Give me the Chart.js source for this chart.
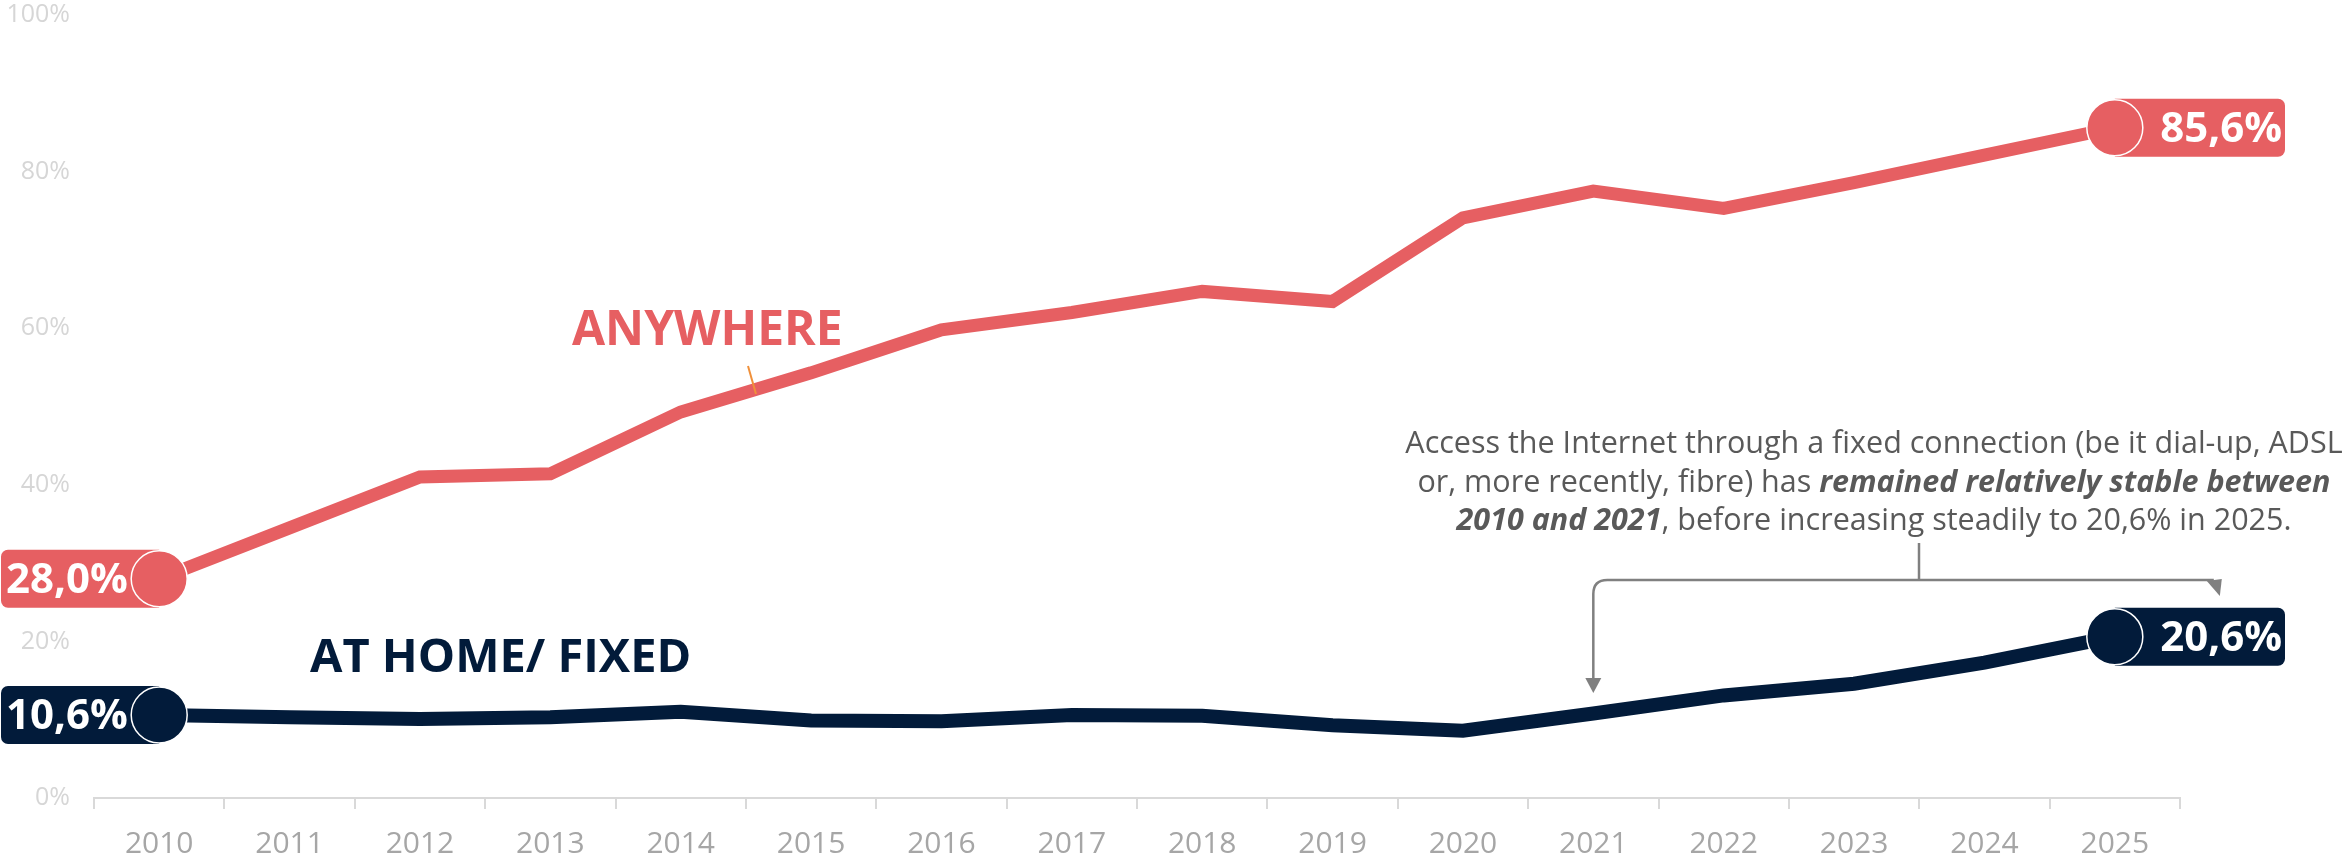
<!DOCTYPE html>
<html>
<head>
<meta charset="utf-8">
<title>Internet access: anywhere vs at home</title>
<script src="https://cdn.jsdelivr.net/npm/chart.js@4.4.1/dist/chart.umd.min.js"></script>
<style>
    html, body { margin: 0; padding: 0; background: #ffffff; }
    #wrap { width: 2349px; height: 861px; }
</style>
</head>
<body>
<div id="wrap"><canvas id="accessChart" width="2349" height="861"></canvas></div>
<script>
// ================================
// Data
// ================================
const years = ["2010", "2011", "2012", "2013", "2014", "2015", "2016", "2017",
               "2018", "2019", "2020", "2021", "2022", "2023", "2024", "2025"];
const anywhere  = [28.0, 34.5, 41.0, 41.4, 49.3, 54.3, 59.8, 62.0, 64.7, 63.4, 74.1, 77.5, 75.3, 78.6, 82.1, 85.6];
const fixedHome = [10.6, 10.3, 10.1, 10.3, 11.0, 9.9, 9.8, 10.6, 10.5, 9.3, 8.6, 10.8, 13.1, 14.6, 17.3, 20.6];
const yTicks = [0, 20, 40, 60, 80, 100];
const seriesNames = ["ANYWHERE", "AT HOME/ FIXED"];

const RED = "#e65f62";
const NAVY = "#021b3a";
const NOTE = "#595959";
const FONT = "'Open Sans', 'Noto Sans', sans-serif";

Chart.defaults.font.family = FONT;

function fmt(v) {
    return v.toFixed(1).replace(".", ",") + "%";
}

// ================================
// End point labels (boxes behind the big markers)
// ================================
const endLabels = {
    id: "endLabels",
    beforeDatasetsDraw(chart) {
        const ctx = chart.ctx;
        const colors = [RED, NAVY];
        chart.data.datasets.forEach((ds, i) => {
            const pts = chart.getDatasetMeta(i).data;
            const first = pts[0];
            const last = pts[pts.length - 1];
            ctx.save();
            ctx.fillStyle = colors[i];
            ctx.beginPath();
            ctx.roundRect(1, first.y - 29, first.x - 1, 58, [7, 0, 0, 7]);
            ctx.fill();
            ctx.beginPath();
            ctx.roundRect(last.x, last.y - 29, chart.chartArea.right + 105 - last.x, 58, [0, 7, 7, 0]);
            ctx.fill();
            ctx.restore();
        });
    },
    afterDatasetsDraw(chart) {
        const ctx = chart.ctx;
        chart.data.datasets.forEach((ds, i) => {
            const pts = chart.getDatasetMeta(i).data;
            const first = pts[0];
            const last = pts[pts.length - 1];
            ctx.save();
            ctx.fillStyle = "#ffffff";
            ctx.font = "bold 42px " + FONT;
            ctx.textBaseline = "middle";
            ctx.textAlign = "left";
            ctx.fillText(fmt(ds.data[0]), 6, first.y + 2);
            ctx.textAlign = "right";
            ctx.fillText(fmt(ds.data[ds.data.length - 1]), chart.chartArea.right + 102, last.y + 2);
            ctx.restore();
        });
    }
};

// ================================
// Series names, note and bracket
// ================================
function drawRich(ctx, segs, cx, y) {
    let total = 0;
    segs.forEach(s => { ctx.font = s.font; total += ctx.measureText(s.text).width; });
    let x = cx - total / 2;
    segs.forEach(s => {
        ctx.font = s.font;
        ctx.fillText(s.text, x, y);
        x += ctx.measureText(s.text).width;
    });
}

const notes = {
    id: "notes",
    afterDraw(chart) {
        const ctx = chart.ctx;
        const xs = chart.scales.x;
        ctx.save();

        // series names
        ctx.textBaseline = "alphabetic";
        ctx.textAlign = "left";
        ctx.font = "bold 48px " + FONT;
        ctx.fillStyle = RED;
        ctx.fillText(seriesNames[0], 572, 345);
        ctx.font = "bold 47px " + FONT;
        ctx.fillStyle = NAVY;
        ctx.fillText(seriesNames[1], 310, 672);

        // little orange tick under ANYWHERE
        ctx.strokeStyle = "#f0903a";
        ctx.lineWidth = 2;
        ctx.beginPath();
        ctx.moveTo(748, 366);
        ctx.lineTo(756, 394);
        ctx.stroke();

        // note text
        const size = 30.5;
        const reg = size + "px " + FONT;
        const bi = "italic bold " + size + "px " + FONT;
        ctx.fillStyle = NOTE;
        const cx = 1874;
        drawRich(ctx, [{ text: "Access the Internet through a fixed connection (be it dial-up, ADSL", font: reg }], cx, 453);
        drawRich(ctx, [
            { text: "or, more recently, fibre) has ", font: reg },
            { text: "remained relatively stable between", font: bi }
        ], cx, 492);
        drawRich(ctx, [
            { text: "2010 and 2021", font: bi },
            { text: ", before increasing steadily to 20,6% in 2025.", font: reg }
        ], cx, 530);

        // bracket with arrows to 2021 and 2025
        const xa = xs.getPixelForValue(11);
        const xb = xs.getPixelForValue(15) + 105;
        const yb = 580;
        ctx.strokeStyle = "#808080";
        ctx.fillStyle = "#808080";
        ctx.lineWidth = 2.5;
        ctx.beginPath();
        ctx.moveTo(1919, 543);
        ctx.lineTo(1919, yb);
        ctx.stroke();
        ctx.beginPath();
        ctx.moveTo(xb - 6, yb);
        ctx.lineTo(xa + 14, yb);
        ctx.quadraticCurveTo(xa, yb, xa, yb + 14);
        ctx.lineTo(xa, 680);
        ctx.stroke();
        ctx.beginPath();
        ctx.moveTo(xa - 8, 678);
        ctx.lineTo(xa + 8, 678);
        ctx.lineTo(xa, 693);
        ctx.closePath();
        ctx.fill();
        ctx.beginPath();
        ctx.moveTo(xb - 13, yb + 1);
        ctx.lineTo(xb + 2, yb - 1);
        ctx.lineTo(xb, yb + 16);
        ctx.closePath();
        ctx.fill();

        ctx.restore();
    }
};

// ================================
// Chart
// ================================
const endRadius = (c) => (c.dataIndex === 0 || c.dataIndex === years.length - 1) ? 28 : 0;

new Chart(document.getElementById("accessChart"), {
    type: "line",
    data: {
        labels: years,
        datasets: [{
            label: seriesNames[0],
            data: anywhere,
            borderColor: RED,
            backgroundColor: RED,
            borderWidth: 13,
            borderJoinStyle: "miter",
            pointRadius: endRadius,
            pointHoverRadius: endRadius,
            pointBackgroundColor: RED,
            pointBorderColor: "#ffffff",
            pointBorderWidth: 1.5,
            clip: false,
            tension: 0
        }, {
            label: seriesNames[1],
            data: fixedHome,
            borderColor: NAVY,
            backgroundColor: NAVY,
            borderWidth: 14,
            borderJoinStyle: "miter",
            pointRadius: endRadius,
            pointHoverRadius: endRadius,
            pointBackgroundColor: NAVY,
            pointBorderColor: "#ffffff",
            pointBorderWidth: 1.5,
            clip: false,
            tension: 0
        }]
    },
    options: {
        responsive: false,
        animation: false,
        events: [],
        layout: { autoPadding: false, padding: { left: 0, right: 169, top: 15, bottom: 0 } },
        plugins: {
            legend: { display: false },
            tooltip: { enabled: false }
        },
        scales: {
            x: {
                offset: true,
                grid: {
                    display: true,
                    offset: true,
                    drawOnChartArea: false,
                    tickLength: 11,
                    color: "#d9d9d9",
                    lineWidth: 2
                },
                border: { display: true, color: "#d9d9d9", width: 2 },
                ticks: {
                    color: "#a6a6a6",
                    font: { size: 30 },
                    padding: 17,
                    maxRotation: 0,
                    autoSkip: false
                },
                afterFit(scale) {
                    scale.height = 63;
                    scale.paddingLeft = 0;
                    scale.paddingRight = 0;
                }
            },
            y: {
                min: yTicks[0],
                max: yTicks[yTicks.length - 1],
                grid: { display: false },
                border: { display: false },
                afterBuildTicks(scale) { scale.ticks = yTicks.map(v => ({ value: v })); },
                ticks: {
                    color: "#d6d6d6",
                    font: { size: 25 },
                    padding: 16,
                    callback: (v) => v + "%"
                },
                afterFit(scale) {
                    scale.width = 94;
                    scale.paddingTop = 0;
                    scale.paddingBottom = 0;
                }
            }
        }
    },
    plugins: [endLabels, notes]
});
</script>
</body>
</html>
